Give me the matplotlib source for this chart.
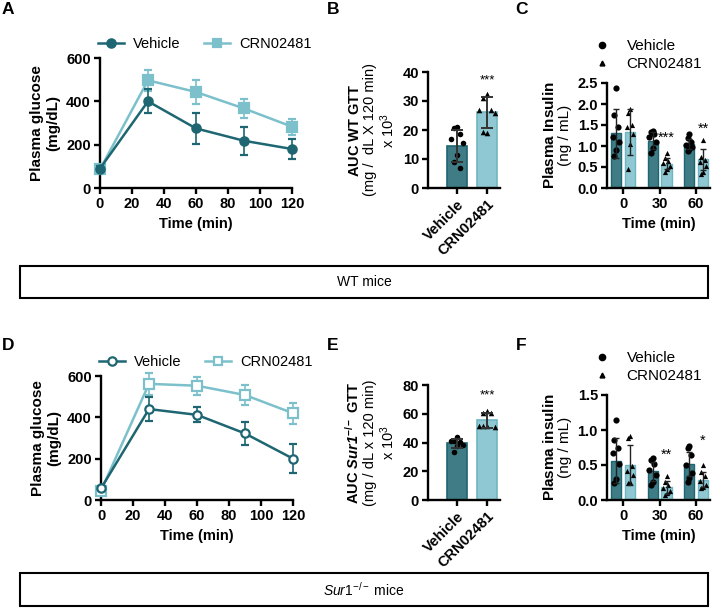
import matplotlib
matplotlib.use('Agg')
import matplotlib.pyplot as plt
from matplotlib.patches import Rectangle
from matplotlib.lines import Line2D
import numpy as np

plt.rcParams['font.family'] = ['Liberation Sans', 'DejaVu Sans']
plt.rcParams['mathtext.fontset'] = 'custom'
plt.rcParams['mathtext.rm'] = 'Liberation Sans'
plt.rcParams['mathtext.it'] = 'Liberation Sans:italic'
plt.rcParams['mathtext.bf'] = 'Liberation Sans:bold'
plt.rcParams['mathtext.sf'] = 'Liberation Sans:bold:italic'

# ---- data ----
groups = ['Vehicle', 'CRN02481']
time_min = [0, 30, 60, 90, 120]
ins_time = ['0', '30', '60']

# WT glucose tolerance test
wt_glc_veh = [90, 400, 275, 218, 180]
wt_glc_veh_sd = [10, 56, 70, 65, 44]
wt_glc_crn = [86, 497, 443, 367, 283]
wt_glc_crn_sd = [8, 49, 54, 44, 37]

# Sur1-/- glucose tolerance test
sur_glc_veh = [56, 440, 412, 322, 200]
sur_glc_veh_sd = [10, 58, 36, 55, 70]
sur_glc_crn = [45, 562, 553, 508, 420]
sur_glc_crn_sd = [8, 52, 44, 50, 50]

# AUC (x 10^3)
wt_auc_mean = [14.5, 26.1]
wt_auc_sd = [5.4, 5.3]
wt_auc_veh_pts = [21.2, 20.8, 18.5, 17.0, 15.5, 11.5, 9.0, 7.0]
wt_auc_crn_pts = [32.4, 31.2, 27.0, 26.9, 26.0, 19.0, 19.2]

sur_auc_mean = [39.4, 55.6]
sur_auc_sd = [3.0, 5.2]
sur_auc_veh_pts = [44.1, 41.3, 40.1, 41.0, 38.3, 37.6, 33.6]
sur_auc_crn_pts = [62.1, 60.3, 60.3, 51.5, 50.6, 51.5, 51.5]

# plasma insulin (ng/mL)
wt_ins_veh_mean = [1.30, 1.13, 1.05]
wt_ins_veh_sd = [0.58, 0.20, 0.12]
wt_ins_veh_pts = [[2.38, 1.75, 1.46, 1.22, 1.10, 0.90, 0.76],
                  [1.36, 1.33, 1.28, 1.22, 1.10, 0.96, 0.83],
                  [1.28, 1.18, 1.10, 1.02, 0.98, 0.93, 0.87]]
wt_ins_crn_mean = [1.33, 0.58, 0.68]
wt_ins_crn_sd = [0.55, 0.13, 0.25]
wt_ins_crn_pts = [[1.87, 1.79, 1.50, 1.46, 1.28, 1.05, 0.45],
                  [0.83, 0.72, 0.64, 0.59, 0.53, 0.45, 0.37],
                  [1.14, 0.75, 0.67, 0.62, 0.52, 0.39, 0.33]]

sur_ins_veh_mean = [0.56, 0.41, 0.51]
sur_ins_veh_sd = [0.32, 0.14, 0.17]
sur_ins_veh_pts = [[1.14, 0.86, 0.74, 0.67, 0.52, 0.30, 0.24],
                   [0.60, 0.57, 0.52, 0.43, 0.36, 0.26, 0.21],
                   [0.77, 0.74, 0.64, 0.50, 0.38, 0.31, 0.26]]
sur_ins_crn_mean = [0.50, 0.18, 0.29]
sur_ins_crn_sd = [0.28, 0.09, 0.11]
sur_ins_crn_pts = [[0.91, 0.88, 0.49, 0.41, 0.36, 0.26, 0.24],
                   [0.35, 0.26, 0.21, 0.17, 0.13, 0.10, 0.07],
                   [0.50, 0.40, 0.35, 0.27, 0.21, 0.19, 0.17]]

wt_ins_stars = ['', '***', '**']
sur_ins_stars = ['', '**', '*']

VEH = '#1d6672'
CRN = '#7cc0cb'
VEH_BAR = '#3f7c86'
CRN_BAR = '#8fc8d2'

W, H = 720, 613
fig = plt.figure(figsize=(W / 100, H / 100), dpi=100)


def px_axes(x0, y_top, x1, y_bot):
    return fig.add_axes([x0 / W, 1 - y_bot / H, (x1 - x0) / W, (y_bot - y_top) / H])


def prism(ax):
    for s in ('top', 'right'):
        ax.spines[s].set_visible(False)
    for s in ('left', 'bottom'):
        ax.spines[s].set_linewidth(1.7)
    ax.tick_params(width=1.7, length=4.5, labelsize=10.5, pad=2)
    for lbl in ax.get_xticklabels() + ax.get_yticklabels():
        lbl.set_fontweight('bold')


def jitter(n, step):
    pattern = [0, -1, 1, -2, 2, 0, -1, 1]
    return np.array(pattern[:n]) * step


def gtt_panel(ax, veh, veh_sd, crn, crn_sd, hollow):
    handles = []
    for y, sd, col, mk, z in ((crn, crn_sd, CRN, 's', 3), (veh, veh_sd, VEH, 'o', 4)):
        eb = ax.errorbar(time_min, y, yerr=sd, color=col, marker=mk, ms=6.5 if mk == 's' else 6,
                         mfc='white' if hollow else col, mec=col, mew=1.6, lw=1.8,
                         capsize=3, elinewidth=1.2, capthick=1.2, zorder=z)
        eb.lines[0].set_clip_on(False)
        for c in eb.lines[1]:
            c.set_clip_on(False)
        for c in eb.lines[2]:
            c.set_clip_on(False)
        handles.append(Line2D([], [], color=col, marker=mk, ms=6, mfc='white' if hollow else col,
                              mec=col, mew=1.6, lw=1.8))
    ax.set_xlim(0, 120)
    ax.set_ylim(0, 600)
    ax.set_xticks(range(0, 121, 20))
    ax.set_yticks(range(0, 601, 200))
    ax.set_xlabel('Time (min)', fontweight='bold', fontsize=10.5, labelpad=4)
    ax.set_ylabel('Plasma glucose\n(mg/dL)', fontweight='bold', fontsize=11, labelpad=4,
                  linespacing=1.25)
    prism(ax)
    ax.legend(handles[::-1], groups, loc='center left', bbox_to_anchor=(-0.01, 1.11),
              ncol=2, frameon=False, fontsize=10.5, handlelength=1.8, handletextpad=0.6,
              columnspacing=1.6, borderpad=0, borderaxespad=0)


def auc_panel(ax, mean, sd, veh_pts, crn_pts, ymax, step, star_y, label):
    ax.bar([0, 1], mean, width=0.68, color=[VEH_BAR, CRN_BAR], edgecolor=[VEH, '#6db6c2'],
           linewidth=1.2, zorder=1)
    ax.scatter(0 + jitter(len(veh_pts), 0.1), veh_pts, s=16, color='black', marker='o',
               zorder=3, linewidths=0)
    ax.scatter(1 + jitter(len(crn_pts), 0.13), crn_pts, s=16, color='black', marker='^',
               zorder=3, linewidths=0)
    ax.errorbar([0, 1], mean, yerr=sd, fmt='none', ecolor='#333333', elinewidth=1.4,
                capsize=4, capthick=1.4, zorder=4)
    ax.text(1, star_y, '***', ha='center', va='center', fontsize=9.5)
    ax.set_xlim(-0.97, 1.43)
    ax.set_ylim(0, ymax)
    ax.set_yticks(np.arange(0, ymax + 0.1, step))
    ax.set_xticks([0, 1])
    ax.set_xticklabels(groups, rotation=45, ha='right', rotation_mode='anchor')
    ax.set_ylabel(label, fontsize=10.5, linespacing=1.1, labelpad=4)
    prism(ax)


def ins_panel(ax, vm, vsd, vpts, cm, csd, cpts, ymax, stars, star_y, label):
    x = np.arange(3)
    off = 0.19
    bw = 0.28
    ax.bar(x - off, vm, width=bw, color=VEH_BAR, edgecolor=VEH, linewidth=1.0, zorder=1)
    ax.bar(x + off, cm, width=bw, color=CRN_BAR, edgecolor='#6db6c2', linewidth=1.0, zorder=1)
    for i in range(3):
        ax.scatter(x[i] - off + jitter(len(vpts[i]), 0.045), vpts[i], s=20, color='black',
                   marker='o', linewidths=0, zorder=3)
        ax.scatter(x[i] + off + jitter(len(cpts[i]), 0.045), cpts[i], s=14, color='black',
                   marker='^', linewidths=0, zorder=3)
        if stars[i]:
            ax.text(x[i] + off, star_y[i], stars[i], ha='center', va='center', fontsize=10.5)
    ax.errorbar(x - off, vm, yerr=vsd, fmt='none', ecolor='#222222', elinewidth=1.0,
                capsize=2.5, capthick=1.0, zorder=4)
    ax.errorbar(x + off, cm, yerr=csd, fmt='none', ecolor='#222222', elinewidth=1.0,
                capsize=2.5, capthick=1.0, zorder=4)
    ax.set_xlim(-0.44, 2.38)
    ax.set_ylim(0, ymax)
    ax.set_yticks(np.arange(0, ymax + 0.01, 0.5))
    ax.yaxis.set_major_formatter(matplotlib.ticker.FormatStrFormatter('%.1f'))
    ax.set_xticks(x)
    ax.set_xticklabels(ins_time)
    ax.set_xlabel('Time (min)', fontweight='bold', fontsize=10.5, labelpad=4)
    ax.set_ylabel(label, fontsize=11, linespacing=1.1, labelpad=4)
    prism(ax)
    h = [Line2D([], [], ls='none', marker='o', color='black', ms=4.5),
         Line2D([], [], ls='none', marker='^', color='black', ms=3.5)]
    ax.legend(h, groups, loc='upper left', bbox_to_anchor=(-0.12, 1.42), frameon=False,
              fontsize=11, handlelength=1.0, handletextpad=1.1, labelspacing=0.3,
              borderpad=0, borderaxespad=0)


# ---- top row: WT mice ----
axA = px_axes(100, 58, 292, 188)
gtt_panel(axA, wt_glc_veh, wt_glc_veh_sd, wt_glc_crn, wt_glc_crn_sd, hollow=False)

axB = px_axes(428, 72, 500, 188)
auc_panel(axB, wt_auc_mean, wt_auc_sd, wt_auc_veh_pts, wt_auc_crn_pts, 40, 10, 37,
          r'$\mathbf{AUC\ WT\ GTT}$' + '\n(mg /  dL X 120 min)\nx 10$^3$')

axC = px_axes(607, 83, 710, 188)
ins_panel(axC, wt_ins_veh_mean, wt_ins_veh_sd, wt_ins_veh_pts, wt_ins_crn_mean,
          wt_ins_crn_sd, wt_ins_crn_pts, 2.5, wt_ins_stars, [0, 1.2, 1.42],
          r'$\mathbf{Plasma\ Insulin}$' + '\n(ng / mL)')

# ---- bottom row: Sur1-/- mice ----
axD = px_axes(101, 376, 293, 500)
gtt_panel(axD, sur_glc_veh, sur_glc_veh_sd, sur_glc_crn, sur_glc_crn_sd, hollow=True)

axE = px_axes(428, 385, 500, 500)
auc_panel(axE, sur_auc_mean, sur_auc_sd, sur_auc_veh_pts, sur_auc_crn_pts, 80, 20, 73,
          r'$\mathbf{AUC}\ \mathsf{Sur1}^{\mathbf{-/-}}\ \mathbf{GTT}$'
          + '\n(mg / dL x 120 min)\nx 10$^3$')

axF = px_axes(607, 395, 710, 500)
ins_panel(axF, sur_ins_veh_mean, sur_ins_veh_sd, sur_ins_veh_pts, sur_ins_crn_mean,
          sur_ins_crn_sd, sur_ins_crn_pts, 1.5, sur_ins_stars, [0, 0.64, 0.84],
          r'$\mathbf{Plasma\ insulin}$' + '\n(ng / mL)')

# panel letters
for letter, x, y in (('A', 8, 10), ('B', 333, 10), ('C', 521, 10),
                     ('D', 8, 345), ('E', 333, 345), ('F', 521, 345)):
    fig.text(x / W, 1 - y / H, letter, fontsize=12.5, fontweight='bold', ha='center', va='center')

# strain boxes
for y0, y1, txt in ((266, 298, 'WT mice'), (573, 606, r'$\mathit{Sur1}^{\mathrm{-/-}}$ mice')):
    fig.add_artist(Rectangle((20 / W, 1 - y1 / H), 688 / W, (y1 - y0) / H,
                             transform=fig.transFigure, fill=False, lw=1.5, ec='black'))
    fig.text(364 / W, 1 - (y0 + y1) / 2 / H, txt, ha='center', va='center', fontsize=10)

plt.savefig('out.png', dpi=100)
